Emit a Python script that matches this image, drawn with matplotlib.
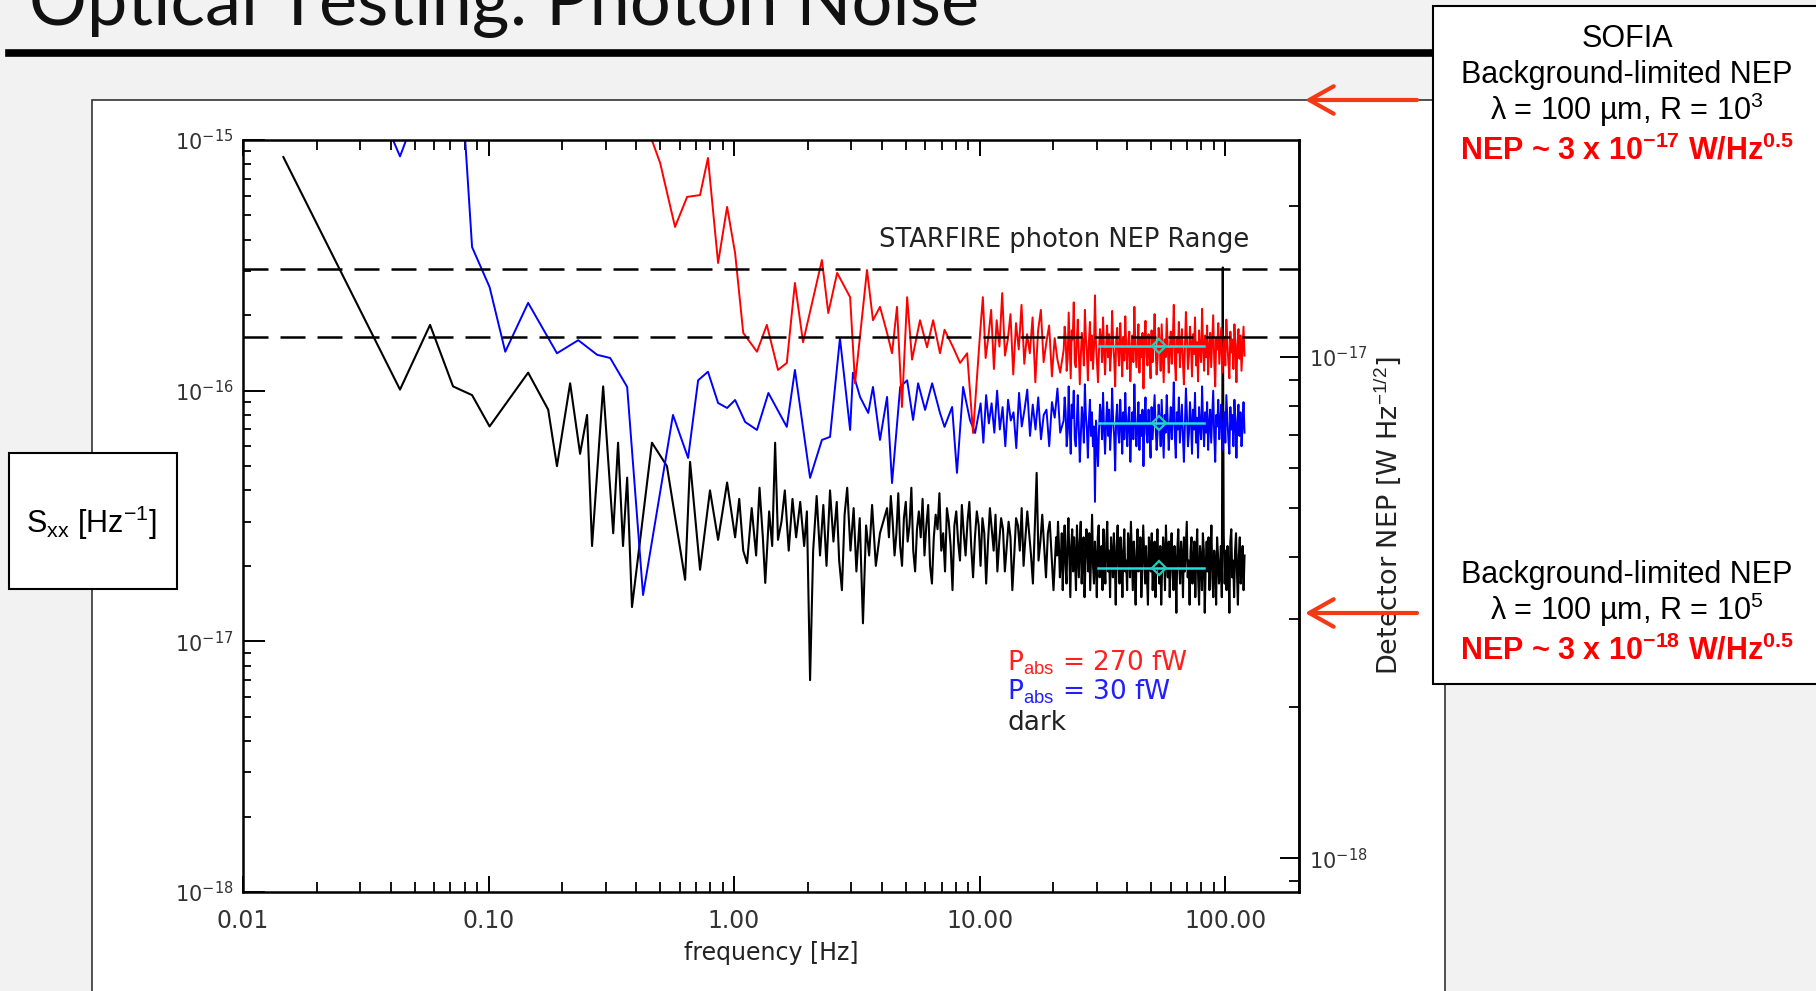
import numpy as np
import matplotlib
matplotlib.use('Agg')
import matplotlib.pyplot as plt
from matplotlib.patches import Rectangle, FancyArrowPatch
from matplotlib.lines import Line2D

plt.rcParams['mathtext.fontset'] = 'custom'
plt.rcParams['mathtext.rm'] = 'Liberation Sans'
plt.rcParams['mathtext.it'] = 'Liberation Sans:italic'
plt.rcParams['mathtext.bf'] = 'Liberation Sans:bold'
plt.rcParams['mathtext.sf'] = 'Liberation Sans'

# ---- data (Sxx in units of 1e-17 Hz^-1, frequency in Hz) ----
black_f = [0.0146, 0.0436, 0.0578, 0.0717, 0.0857, 0.101, 0.145, 0.175, 0.190, 0.215,
           0.236, 0.252, 0.264, 0.293, 0.322, 0.337, 0.353, 0.367, 0.384, 0.463,
           0.533, 0.632, 0.662, 0.727, 0.798, 0.861, 0.937,
           1.01, 1.05, 1.09, 1.13, 1.18, 1.23, 1.27, 1.31, 1.34, 1.39,
           1.43, 1.47, 1.51, 1.56, 1.61, 1.67, 1.73, 1.79, 1.86, 1.93,
           1.98, 2.04, 2.10, 2.17, 2.24, 2.31, 2.38, 2.46, 2.54, 2.62,
           2.68, 2.75, 2.82, 2.89, 2.98, 3.07, 3.15, 3.25, 3.35, 3.45,
           3.55, 3.65, 3.78, 3.93]
black_s = [85.5, 10.1, 18.3, 10.4, 9.6, 7.2, 11.8, 8.4, 5.0, 10.7,
           5.6, 8.0, 2.4, 10.4, 2.7, 6.2, 2.4, 4.5, 1.37, 6.2,
           5.0, 1.76, 5.2, 1.93, 4.0, 2.54, 4.3,
           2.6, 3.7, 2.3, 2.05, 3.4, 2.2, 4.1, 2.6, 1.71, 3.3,
           2.4, 6.2, 2.54, 3.0, 4.0, 2.3, 3.7, 2.6, 3.6, 2.4,
           3.3, 0.70, 2.3, 3.8, 2.2, 3.5, 2.0, 4.0, 2.5, 3.6,
           2.1, 1.6, 3.2, 4.1, 2.3, 3.4, 1.9, 3.1, 1.18, 2.9,
           2.2, 3.5, 2.0, 2.7]
# dense part of the dark spectrum, 4.2 - 20 Hz
black_mid_s = [
    3.4, 2.6, 3.8, 3.0, 2.2, 2.7, 3.9, 2.4, 2.0, 3.1,
    3.6, 2.5, 2.9, 4.1, 2.3, 1.9, 2.8, 3.3, 2.6, 3.7,
    2.2, 2.9, 3.5, 2.0, 1.7, 2.6, 3.2, 2.8, 3.9, 2.3,
    2.7, 1.9, 3.4, 3.0, 2.4, 1.6, 2.9, 3.3, 2.5, 2.1,
    3.5, 2.7, 2.2, 3.0, 3.6, 2.4, 1.8, 2.6, 3.3, 2.9,
    2.0, 3.1, 2.7, 1.7, 2.5, 3.4, 2.8, 2.3, 3.2, 1.9,
    2.5, 3.1, 2.8, 1.9, 2.4, 3.0, 2.6, 1.6, 2.2, 3.1,
    2.9, 2.3, 3.4, 2.0, 2.6, 3.3, 2.7, 2.2, 1.7, 2.8,
    4.7, 2.1, 2.5, 3.2, 2.4, 1.8, 2.7, 3.0, 2.2, 1.6]
# dense part of the dark spectrum, 20.5 - 120 Hz
black_hi_s = [
    2.6, 2.2, 3.0, 2.4, 1.8, 2.1, 2.7, 1.6, 2.3, 2.9, 2.0, 1.7, 2.5, 3.1, 2.2, 1.5, 2.4, 2.8, 1.9, 2.6,
    2.1, 1.6, 2.9, 2.3, 1.8, 2.5, 3.0, 1.7, 2.2, 2.6, 1.5, 2.0, 2.8, 2.4, 1.9, 2.7, 1.6, 2.3, 3.2, 2.0,
    1.7, 2.5, 2.1, 1.5, 2.6, 2.9, 1.8, 2.2, 2.4, 1.6, 2.8, 2.0, 1.7, 2.5, 3.0, 1.9, 2.3, 1.5, 2.6, 2.2,
    1.8, 2.7, 2.1, 1.4, 2.4, 2.9, 2.0, 1.7, 2.6, 2.2, 1.5, 2.3, 2.8, 1.9, 2.1, 1.6, 2.7, 2.4, 1.8, 3.0,
    2.2, 1.6, 2.5, 2.0, 1.4, 2.3, 2.8, 1.9, 2.1, 2.6, 1.5, 2.0, 2.9, 2.2, 1.7, 2.4, 1.8, 1.4, 2.6, 2.3,
    1.9, 2.7, 1.6, 2.1, 2.5, 1.5, 2.2, 2.8, 2.0, 1.7, 2.4, 1.4, 2.0, 2.6, 2.3, 1.6, 2.9, 2.1, 1.8, 2.5,
    1.5, 2.2, 2.7, 1.9, 1.6, 2.4, 2.1, 1.3, 2.3, 2.8, 2.0, 1.7, 2.5, 2.2, 1.5, 2.6, 1.9, 2.4, 3.0, 1.8,
    2.1, 1.4, 2.3, 2.6, 1.7, 2.0, 2.5, 1.5, 2.2, 2.8, 1.8, 1.4, 2.4, 2.1, 1.6, 2.7, 2.3, 1.3, 2.0, 2.5,
    1.9, 2.6, 1.6, 2.2, 2.9, 1.8, 1.5, 2.3, 2.0, 1.4, 2.6, 2.2, 1.7, 1.9, 2.4, 1.5, 31.0, 2.7, 1.7, 2.3,
    1.6, 2.4, 2.0, 1.3, 2.5, 2.8, 1.8, 2.1, 1.5, 2.3, 2.7, 1.9, 1.4, 2.2, 2.6, 1.7, 2.0, 2.4, 1.6, 2.2]

blue_f = [0.0146, 0.029, 0.0436, 0.0578, 0.0717, 0.0857, 0.101, 0.117, 0.145, 0.190,
          0.232, 0.277, 0.313, 0.367, 0.426, 0.564, 0.650, 0.714, 0.783, 0.861,
          0.937, 1.01, 1.11, 1.24, 1.38, 1.64, 1.77, 2.04, 2.28, 2.46,
          2.70, 2.97, 3.05, 3.26, 3.52, 3.68, 3.93, 4.2, 4.4, 4.75,
          5.07, 5.36, 5.62, 6.0, 6.41, 6.9, 7.2, 7.73, 8.09, 8.57,
          9.14, 9.59]
blue_s = [400, 220, 86, 180, 570, 37.4, 25.9, 14.3, 22.4, 14.1,
          15.9, 13.9, 13.5, 10.35, 1.53, 8.0, 5.39, 11.0, 11.9, 8.93,
          8.53, 9.18, 7.5, 6.97, 9.79, 7.17, 12.1, 4.49, 6.36, 6.54,
          16.2, 6.97, 11.8, 9.44, 8.15, 10.35, 6.36, 9.44, 4.28, 10.35,
          11.0, 7.64, 10.7, 8.38, 10.7, 8.15, 7.17, 8.61, 4.7, 10.35,
          7.64, 6.78]
# 10 - 21 Hz
blue_mid_s = [8.9, 6.2, 9.6, 7.4, 8.9, 6.8, 10.0, 7.0, 8.6, 6.0,
              9.2, 7.6, 8.2, 5.9, 9.8, 7.2, 8.4, 10.1, 6.6, 8.8,
              7.0, 9.4, 6.4, 8.0, 8.4, 6.0, 9.0, 7.8, 10.2, 6.8]
# dense part, 22 - 120 Hz
blue_dense_s = [
    7.6, 9.4, 8.2, 6.0, 6.8, 10.4, 7.2, 5.6, 8.8, 7.8, 10.0, 6.4, 6.0, 7.4, 9.6, 7.0, 5.2, 6.6, 8.6, 7.6,
    6.2, 10.6, 8.0, 7.0, 5.4, 7.6, 9.2, 6.6, 8.2, 6.0, 7.2, 3.6, 7.6, 6.2, 5.0, 7.0, 8.8, 8.0, 6.4, 9.8,
    7.0, 5.6, 7.4, 9.0, 6.6, 8.4, 5.8, 7.0, 10.2, 7.6, 6.6, 4.8, 7.8, 8.8, 6.8, 6.2, 9.2, 7.4, 5.6, 8.2,
    6.4, 9.8, 7.2, 6.0, 7.8, 8.6, 5.2, 7.0, 8.2, 6.4, 10.6, 7.4, 6.0, 7.2, 9.0, 5.8, 8.0, 6.6, 8.4, 5.0,
    7.6, 9.4, 6.8, 6.2, 8.4, 7.0, 5.4, 8.6, 6.4, 7.8, 9.6, 7.2, 5.8, 6.8, 8.8, 7.6, 6.0, 9.2, 7.0, 5.4,
    8.0, 6.8, 9.6, 7.6, 5.8, 7.2, 8.6, 6.4, 7.8, 10.8, 6.6, 5.4, 8.2, 7.0, 9.4, 6.2, 7.4, 8.8, 6.6, 5.2,
    7.4, 10.2, 8.0, 6.0, 6.8, 9.0, 7.6, 5.6, 8.4, 7.0, 9.8, 6.2, 7.8, 5.4, 8.6, 7.2, 6.4, 10.4, 7.4, 6.0,
    8.2, 6.8, 9.0, 5.8, 7.4, 8.4, 6.2, 7.8, 10.0, 6.6, 5.2, 8.0, 7.2, 9.2, 6.4, 7.6, 8.8, 5.8, 7.0, 8.2,
    6.2, 9.6, 7.8, 6.4, 5.6, 8.6, 7.0, 8.0, 6.0, 9.2, 7.4, 5.4, 7.6, 8.8, 6.6, 8.2, 6.0, 7.2, 9.0, 6.8]

red_f = [0.42, 0.500, 0.575, 0.644, 0.727, 0.783, 0.861, 0.937, 1.01, 1.09,
         1.24, 1.36, 1.51, 1.64, 1.77, 1.91, 2.28, 2.42, 2.63, 2.97,
         3.11, 3.48, 3.68, 3.93, 4.2, 4.4, 4.61, 4.83, 5.07, 5.31,
         5.72, 6.11, 6.47, 6.9, 7.2, 7.8, 8.33, 8.9, 9.41]
red_s = [130, 81.0, 45.0, 59.3, 60.3, 84.8, 32.3, 54.1, 35.4, 17.0,
         14.3, 18.3, 12.1, 12.9, 26.9, 15.6, 33.2, 20.4, 29.5, 23.6,
         10.7, 30.3, 19.1, 21.6, 17.0, 14.1, 21.6, 8.61, 23.6, 13.3,
         19.1, 14.9, 19.1, 14.1, 17.5, 14.9, 12.9, 14.1, 6.78]
# 10 - 21 Hz
red_mid_s = [17.0, 23.6, 13.5, 16.4, 21.0, 12.2, 19.1, 15.0, 24.5, 13.8,
             15.9, 20.2, 11.6, 18.6, 14.6, 22.0, 12.8, 16.8, 14.1, 19.6,
             10.8, 17.4, 21.0, 13.0, 15.6, 18.2, 11.4, 16.2, 13.3, 11.8]
red_dense_s = [
    14.5, 18.0, 16.2, 12.0, 13.4, 20.5, 15.0, 11.2, 17.4, 16.0, 22.5, 13.0, 12.4, 15.8, 19.2, 14.0, 10.6, 13.8, 17.0, 15.2,
    12.6, 21.0, 16.4, 14.2, 11.0, 15.6, 18.8, 13.2, 16.6, 12.2, 14.8, 24.0, 15.4, 12.8, 10.8, 14.6, 17.6, 16.2, 13.0, 19.6,
    14.4, 11.6, 15.0, 18.2, 13.6, 16.8, 12.0, 14.2, 20.8, 15.6, 13.4, 10.4, 16.0, 17.8, 14.0, 12.6, 18.6, 15.2, 11.4, 16.4,
    13.2, 19.8, 14.6, 12.2, 15.8, 17.2, 10.9, 14.4, 16.6, 13.0, 21.6, 15.0, 12.4, 14.8, 18.4, 11.8, 16.2, 13.6, 17.0, 10.2,
    15.4, 19.0, 13.8, 12.6, 16.8, 14.2, 11.2, 17.4, 13.0, 15.6, 20.2, 14.8, 11.6, 13.4, 17.8, 15.6, 12.0, 18.4, 14.0, 10.8,
    16.0, 13.6, 19.4, 15.2, 11.8, 14.6, 17.2, 12.8, 15.8, 22.0, 13.4, 11.0, 16.4, 14.2, 18.8, 12.4, 15.0, 17.6, 13.2, 10.6,
    14.8, 20.6, 16.2, 12.2, 13.8, 18.0, 15.4, 11.4, 16.8, 14.0, 19.6, 12.6, 15.6, 10.9, 17.4, 14.4, 13.0, 21.2, 15.0, 12.0,
    16.6, 13.6, 18.2, 11.6, 14.8, 17.0, 12.4, 15.8, 20.0, 13.2, 10.4, 16.2, 14.6, 18.6, 12.8, 15.2, 17.8, 11.8, 14.0, 16.4,
    12.6, 19.2, 15.6, 13.0, 11.2, 17.2, 14.2, 16.0, 12.2, 18.4, 14.8, 10.8, 15.4, 17.6, 13.4, 16.6, 12.0, 14.6, 18.0, 13.8]

# averaged level over 30-80 Hz for each spectrum (cyan marks)
band_lo, band_mid, band_hi = 30.4, 54.0, 82.0
band_levels = {'red': 15.1, 'blue': 7.4, 'black': 1.96}

starfire_levels = [3.05e-16, 1.64e-16]   # Sxx equivalent of the STARFIRE NEP range
nep_k = 8.57e-10                           # NEP = k * sqrt(Sxx)

xtick_vals = [0.01, 0.1, 1, 10, 100]
xtick_labels = ['0.01', '0.10', '1.00', '10.00', '100.00']

# ---- figure / slide layout (pixel helpers) ----
W, H = 1816, 991
def fx(x):
    return x / W
def fy(y):
    return 1 - y / H

fig = plt.figure(figsize=(W / 100, H / 100), dpi=100, facecolor='#f2f2f2')

# title (cut off at top, as on the slide) and rule
fig.text(fx(29), fy(25), 'Optical Testing: Photon Noise', fontsize=52, family='Lato',
         va='baseline', ha='left', color='#111')
fig.add_artist(Line2D([fx(9), fx(1432)], [fy(53), fy(53)], color='black', lw=5.5))

# white picture area of the pasted plot
fig.add_artist(Rectangle((fx(92), fy(1005)), (1445 - 92) / W, (1005 - 100) / H,
                         transform=fig.transFigure, facecolor='white',
                         edgecolor='#333', lw=1.2, zorder=-1))

ax = fig.add_axes([fx(243), fy(892), (1299 - 243) / W, (892 - 140) / H])
ax.set_facecolor('white')

def to_sxx(v):
    return np.array(v) * 1e-17

black_all_f = np.concatenate([black_f,
                              np.geomspace(4.2, 20, len(black_mid_s)),
                              np.geomspace(20.5, 120, len(black_hi_s))])
blue_all_f = np.concatenate([blue_f,
                             np.geomspace(10.1, 21.3, len(blue_mid_s)),
                             np.geomspace(22, 120, len(blue_dense_s))])
red_all_f = np.concatenate([red_f,
                            np.geomspace(10.05, 21.3, len(red_mid_s)),
                            np.geomspace(22, 120, len(red_dense_s))])

ax.plot(black_all_f, to_sxx(black_s + black_mid_s + black_hi_s), color='black', lw=1.5)
ax.plot(blue_all_f, to_sxx(blue_s + blue_mid_s + blue_dense_s), color='#0000ff', lw=1.4)
ax.plot(red_all_f, to_sxx(red_s + red_mid_s + red_dense_s), color='#ff0000', lw=1.4)

for name, lev in band_levels.items():
    ax.plot([band_lo, band_hi], [lev * 1e-17, lev * 1e-17], color='#22dede', lw=1.8)
    ax.plot([band_mid], [lev * 1e-17], marker='D', ms=7, mfc='none', mec='#1fcfb5', mew=1.6)

for lev in starfire_levels:
    ax.axhline(lev, color='black', lw=1.8, dashes=(10, 4.8))

ax.set_xscale('log')
ax.set_yscale('log')
ax.set_xlim(0.01, 200)
ax.set_ylim(1e-18, 1e-15)

for sp in ax.spines.values():
    sp.set_linewidth(1.8)

ax.set_xticks(xtick_vals)
ax.set_xticklabels(xtick_labels)
ax.tick_params(axis='x', which='major', direction='in', top=True, bottom=True,
               length=11.5, width=1.4, pad=12, labelsize=17, labelcolor='#333')
ax.tick_params(axis='x', which='minor', direction='in', top=True, bottom=True,
               length=7, width=1.3)
ax.tick_params(axis='y', which='major', direction='in', left=True, right=False,
               length=16, width=1.4, pad=7, labelsize=15, labelcolor='#333')
ax.tick_params(axis='y', which='minor', direction='in', left=True, right=False,
               length=5.5, width=1.3)
ax.set_xlabel('frequency [Hz]', fontsize=17, color='#222', labelpad=6)

sec = ax.secondary_yaxis('right',
                         functions=(lambda s: nep_k * np.sqrt(np.clip(s, 1e-300, None)),
                                    lambda n: (np.clip(n, 1e-300, None) / nep_k) ** 2))
sec.spines['right'].set_linewidth(1.8)
sec.tick_params(which='major', direction='in', length=14, width=1.4, pad=7,
                labelsize=15, labelcolor='#333')
sec.tick_params(which='minor', direction='in', length=7, width=1.3)
sec.set_ylabel(r'Detector NEP [W Hz$^{-1/2}$]', fontsize=19.5, color='#222', labelpad=3)

ax.text(3.9, 4.0e-16, 'STARFIRE photon NEP Range', fontsize=18.5, color='#222',
        va='center', ha='left')
ax.text(0.7235, 0.3045, r'P$_{\mathrm{abs}}$ = 270 fW', transform=ax.transAxes,
        fontsize=19, color='#ff2020', va='center')
ax.text(0.7235, 0.266, r'P$_{\mathrm{abs}}$ = 30 fW', transform=ax.transAxes,
        fontsize=19, color='#2020ff', va='center')
ax.text(0.7235, 0.2247, 'dark', transform=ax.transAxes, fontsize=19, color='#222',
        va='center')

# slide annotation boxes
fig.add_artist(Rectangle((fx(1433), fy(684)), (1830 - 1433) / W, (684 - 6) / H,
                         transform=fig.transFigure, facecolor='white',
                         edgecolor='black', lw=1.5, zorder=3))
fig.add_artist(Rectangle((fx(9), fy(589)), (177 - 9) / W, (589 - 453) / H,
                         transform=fig.transFigure, facecolor='white',
                         edgecolor='black', lw=1.5, zorder=3))

txt = dict(family='Liberation Sans', ha='center', va='baseline', zorder=4)
cx = fx(1627)
fig.text(cx, fy(47), 'SOFIA', fontsize=22, color='black', **txt)
fig.text(cx, fy(83), 'Background-limited NEP', fontsize=22, color='black', **txt)
fig.text(cx, fy(120), r'λ = 100 µm, R = 10$^{3}$', fontsize=22, color='black', **txt)
fig.text(cx, fy(159), r'NEP ~ 3 x 10$^{\mathbf{-17}}$ W/Hz$^{\mathbf{0.5}}$', fontsize=22,
         color='#ff0000', weight='bold', **txt)
fig.text(cx, fy(583), 'Background-limited NEP', fontsize=22, color='black', **txt)
fig.text(cx, fy(620), r'λ = 100 µm, R = 10$^{5}$', fontsize=22, color='black', **txt)
fig.text(cx, fy(659), r'NEP ~ 3 x 10$^{\mathbf{-18}}$ W/Hz$^{\mathbf{0.5}}$', fontsize=22,
         color='#ff0000', weight='bold', **txt)
fig.text(fx(91), fy(533), r'S$_{\mathrm{xx}}$ [Hz$^{\mathrm{-1}}$]', fontsize=22,
         color='black', **txt)

# red arrows pointing at the SOFIA NEP levels on the right axis
for ya in (100, 613):
    fig.add_artist(FancyArrowPatch((fx(1417), fy(ya)), (fx(1305), fy(ya)),
                                   transform=fig.transFigure,
                                   arrowstyle='->,head_length=0.8,head_width=0.45',
                                   mutation_scale=22, color='#f23a17', lw=3,
                                   shrinkA=0, shrinkB=0, zorder=5))

fig.savefig('out.png', dpi=100, facecolor=fig.get_facecolor())
